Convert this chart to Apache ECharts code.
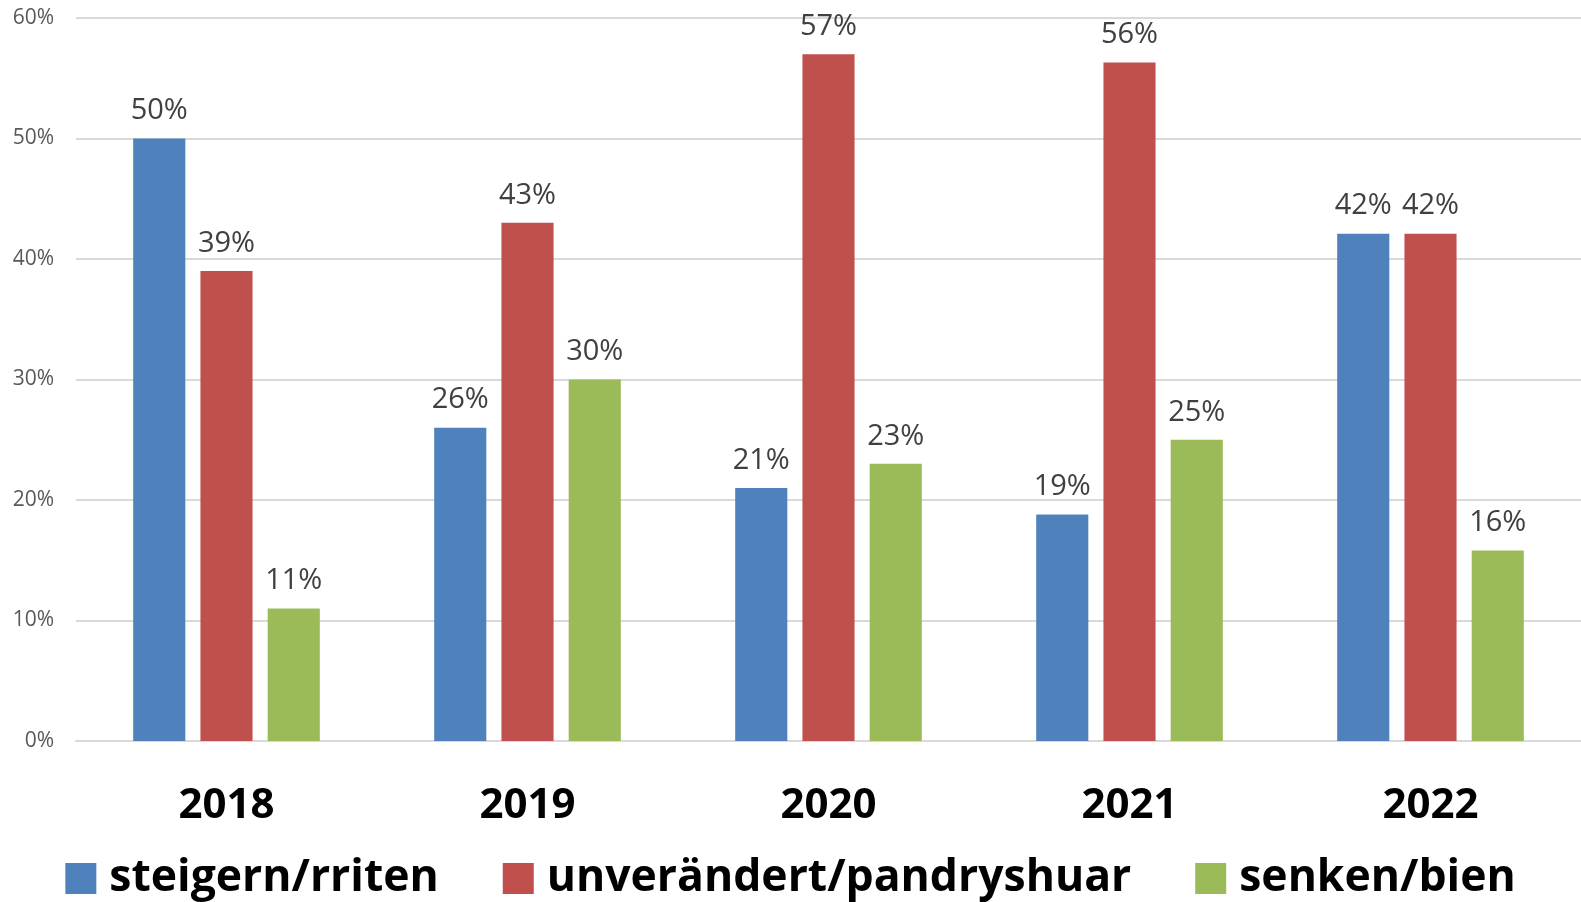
<!DOCTYPE html>
<html>
<head>
<meta charset="utf-8">
<script src="https://cdn.jsdelivr.net/npm/echarts@6/dist/echarts.min.js"></script>
<style>
	html, body { margin: 0; padding: 0; background: #fff; }
	#chart { width: 1581px; height: 902px; }
</style>
</head>
<body>
<div id="chart"></div>
<script>
// Jahre
var years = ['2018', '2019', '2020', '2021', '2022'];
// Anteile in Prozent
var steigern = [50, 26, 21, 18.8, 42.1];
var unveraendert = [39, 43, 57, 56.3, 42.1];
var senken = [11, 30, 23, 25, 15.8];
var seriesNames = ['steigern/rriten', 'unverändert/pandryshuar', 'senken/bien'];
var colors = ['#4f81bd', '#c0504d', '#9bbb59'];

var myChart = echarts.init(document.getElementById('chart'));

function barSeries(name, data) {
	return {
		name: name,
		type: 'bar',
		barGap: '29%',
		barCategoryGap: '38%',
		data: data,
		label: {
			show: true,
			position: 'top',
			distance: 13,
			color: '#404040',
			fontFamily: 'Open Sans',
			fontSize: 29,
			formatter: function (p) {
				return Math.round(p.value) + '%';
			}
		}
	};
}

var option = {
	animation: false,
	color: colors,
	grid: {
		left: 76,
		right: 0,
		top: 18,
		bottom: 161
	},
	legend: {
		bottom: -4,
		left: 'center',
		icon: 'rect',
		itemWidth: 31,
		itemHeight: 31,
		itemGap: 64,
		textStyle: {
			color: '#000',
			fontFamily: 'Open Sans',
			fontWeight: 'bold',
			fontSize: 44.5,
			padding: [0, 0, 0, 8]
		},
		data: seriesNames
	},
	xAxis: {
		type: 'category',
		data: years,
		axisLine: { lineStyle: { color: '#d9d9d9', width: 2 } },
		axisTick: { show: false },
		axisLabel: {
			margin: 44,
			color: '#000',
			fontFamily: 'Open Sans',
			fontWeight: 'bold',
			fontSize: 42
		}
	},
	yAxis: {
		type: 'value',
		min: 0,
		max: 60,
		interval: 10,
		axisLine: { show: false },
		axisTick: { show: false },
		splitLine: { lineStyle: { color: '#d9d9d9', width: 2 } },
		axisLabel: {
			margin: 22,
			color: '#595959',
			fontFamily: 'Open Sans',
			fontSize: 21,
			formatter: '{value}%'
		}
	},
	series: [
		barSeries(seriesNames[0], steigern),
		barSeries(seriesNames[1], unveraendert),
		barSeries(seriesNames[2], senken)
	]
};
myChart.setOption(option);
window.addEventListener('resize', function () {
	myChart.resize();
});
</script>
</body>
</html>
